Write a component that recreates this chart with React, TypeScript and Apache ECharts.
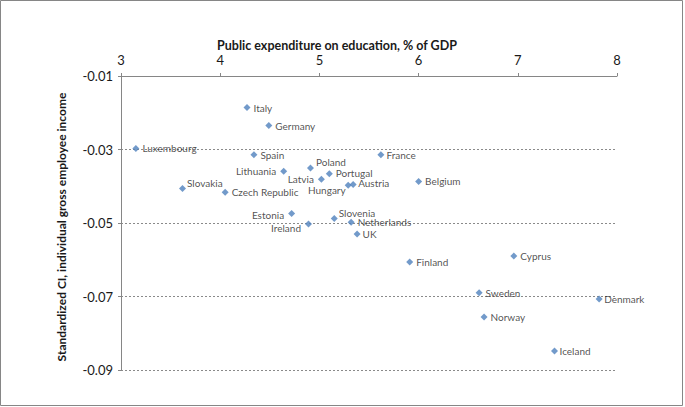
import React, { useEffect, useRef } from "react";
import * as echarts from "echarts";

const countries = [
  "Italy", "Germany", "Luxembourg", "Spain", "France", "Poland", "Lithuania",
  "Portugal", "Latvia", "Hungary", "Austria", "Belgium", "Slovakia",
  "Czech Republic", "Estonia", "Slovenia", "Netherlands", "Ireland", "UK",
  "Finland", "Cyprus", "Sweden", "Denmark", "Norway", "Iceland",
];
const expenditure = [
  4.27, 4.49, 3.15, 4.34, 5.62, 4.91, 4.64,
  5.10, 5.02, 5.29, 5.34, 6.00, 3.62,
  4.05, 4.72, 5.15, 5.32, 4.89, 5.38,
  5.91, 6.96, 6.61, 7.82, 6.66, 7.37,
];
const standardizedCI = [
  -0.0186, -0.0235, -0.0297, -0.0314, -0.0314, -0.0350, -0.0359,
  -0.0366, -0.0381, -0.0397, -0.0395, -0.0387, -0.0406,
  -0.0416, -0.0474, -0.0488, -0.0498, -0.0503, -0.0530,
  -0.0606, -0.0590, -0.0690, -0.0707, -0.0756, -0.0848,
];
const xMin = 3;
const xMax = 8;
const xStep = 1;
const yMin = -0.09;
const yMax = -0.01;
const yStep = 0.02;

const xTitle = "Public expenditure on education, % of GDP";
const yTitle = "Standardized CI, individual gross employee income";

// Label placement tweaks (style only)
const labelTweaks: Record<string, any> = {
  Lithuania: { position: "left", distance: 4 },
  Latvia: { position: "left", distance: 4 },
  Hungary: { position: "left", distance: 0, offset: [1, 5] },
  Austria: { distance: 1.5, offset: [0, -1] },
  Poland: { distance: 2, offset: [0, -6] },
  Portugal: { offset: [0, -1] },
  Estonia: { position: "left", distance: 4, offset: [0, 2] },
  Slovenia: { distance: 1, offset: [0, -6] },
  Ireland: { position: "left", distance: 4, offset: [0, 4] },
  Slovakia: { distance: 1, offset: [0, -5] },
  France: { distance: 2 },
  Denmark: { distance: 1.5 },
  Iceland: { distance: 1.5 },
  UK: { distance: 2 },
};

export default function App() {
  const ref = useRef<HTMLDivElement>(null);

  useEffect(() => {
    document.body.style.margin = "0";
    if (!ref.current) return;
    const chart = echarts.init(ref.current, undefined, { renderer: "svg" });
    // Shift so that the axis minimum is a multiple of the tick step
    const shift = -yMax;
    const data = countries.map((name, i) => ({
      name,
      value: [expenditure[i], standardizedCI[i] + shift],
      label: labelTweaks[name] || {},
    }));
    const font = "Lato, 'Open Sans', sans-serif";
    const axisColor = "#868686";
    chart.setOption({
      animation: false,
      backgroundColor: "#ffffff",
      textStyle: { fontFamily: font },
      grid: { left: 121, right: 68, top: 76, bottom: 37, containLabel: false },
      xAxis: {
        type: "value",
        position: "top",
        min: xMin,
        max: xMax,
        interval: xStep,
        axisLine: { show: true, lineStyle: { color: axisColor, width: 1 } },
        axisTick: { show: true, inside: false, length: 3, lineStyle: { color: axisColor } },
        axisLabel: { margin: 10, fontFamily: font, fontSize: 13, color: "#1a1a1a" },
        splitLine: { show: false },
      },
      yAxis: {
        type: "value",
        min: yMin + shift,
        max: yMax + shift,
        interval: yStep,
        axisLine: { show: true, lineStyle: { color: axisColor, width: 1 } },
        axisTick: { show: true, inside: false, length: 3, lineStyle: { color: axisColor } },
        axisLabel: {
          margin: 8,
          fontFamily: font,
          fontSize: 13,
          color: "#1a1a1a",
          formatter: (v: number) => (v - shift).toFixed(2),
        },
        splitLine: { show: true, lineStyle: { color: "#8a8a8a", type: [2, 2], width: 1 } },
      },
      graphic: [
        {
          type: "rect",
          shape: { x: 0.5, y: 0.5, width: 682, height: 405 },
          style: { fill: "none", stroke: "#868686", lineWidth: 1 },
          silent: true,
          z: -1,
        },
        {
          type: "text",
          x: 337,
          y: 45,
          style: {
            text: xTitle,
            fontFamily: font,
            fontSize: 12.5,
            fontWeight: "bold",
            fill: "#1a1a1a",
            align: "center",
            verticalAlign: "middle",
          },
        },
        {
          type: "text",
          x: 61,
          y: 227,
          rotation: Math.PI / 2,
          style: {
            text: yTitle,
            fontFamily: font,
            fontSize: 12,
            fontWeight: "bold",
            fill: "#1a1a1a",
            align: "center",
            verticalAlign: "middle",
          },
        },
      ],
      series: [
        {
          type: "scatter",
          symbol: "diamond",
          symbolSize: 7,
          itemStyle: { color: "#4F81BD" },
          data,
          label: {
            show: true,
            position: "right",
            distance: 3,
            formatter: "{b}",
            fontFamily: font,
            fontSize: 10,
            color: "#262626",
          },
        },
      ],
    });
    return () => chart.dispose();
  }, []);

  return <div ref={ref} style={{ width: 685, height: 407 }} />;
}
